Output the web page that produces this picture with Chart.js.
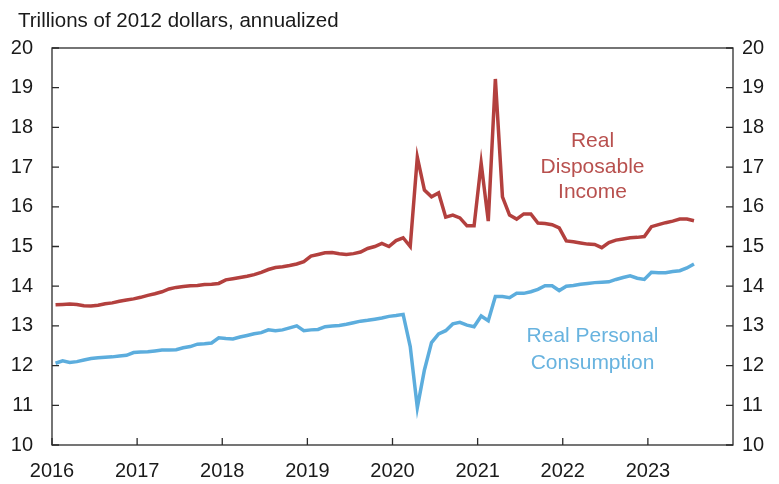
<!DOCTYPE html>
<html>
<head>
<meta charset="utf-8">
<script src="https://cdn.jsdelivr.net/npm/chart.js@4.4.1/dist/chart.umd.min.js"></script>
<style>
  html, body { margin: 0; background: #fff; }
  #wrap { width: 779px; height: 484px; }
</style>
</head>
<body>
<div id="wrap"><canvas id="chart"></canvas></div>
<script>
// ---- Data (monthly, Jan 2016 - Jul 2023) ----
const startYear = 2016;
const yearTicks = [2016, 2017, 2018, 2019, 2020, 2021, 2022, 2023];
const valueTicks = [10, 11, 12, 13, 14, 15, 16, 17, 18, 19, 20];

const disposableIncome = [
  13.53, 13.54, 13.55, 13.54, 13.51, 13.50, 13.52, 13.56, 13.58, 13.62, 13.65, 13.68, // 2016
  13.72, 13.77, 13.81, 13.86, 13.93, 13.97, 13.99, 14.01, 14.02, 14.04, 14.05, 14.07, // 2017
  14.16, 14.19, 14.22, 14.25, 14.29, 14.35, 14.42, 14.47, 14.49, 14.52, 14.56, 14.62, // 2018
  14.76, 14.80, 14.84, 14.85, 14.82, 14.80, 14.82, 14.86, 14.95, 15.00, 15.08, 15.00, // 2019
  15.15, 15.22, 15.00, 17.25, 16.42, 16.25, 16.35, 15.74, 15.79, 15.72, 15.52, 15.52, // 2020
  17.10, 15.64, 19.22, 16.25, 15.79, 15.69, 15.82, 15.82, 15.59, 15.58, 15.55, 15.47, // 2021
  15.14, 15.12, 15.09, 15.06, 15.05, 14.97, 15.10, 15.16, 15.19, 15.22, 15.23, 15.25, // 2022
  15.50, 15.55, 15.60, 15.64, 15.69, 15.69, 15.65                                      // 2023
];

const personalConsumption = [
  12.06, 12.12, 12.08, 12.10, 12.14, 12.18, 12.20, 12.21, 12.22, 12.24, 12.26, 12.33, // 2016
  12.34, 12.35, 12.37, 12.39, 12.39, 12.40, 12.45, 12.48, 12.54, 12.55, 12.57, 12.70, // 2017
  12.68, 12.67, 12.72, 12.76, 12.80, 12.83, 12.90, 12.88, 12.90, 12.95, 13.00, 12.88, // 2018
  12.90, 12.91, 12.98, 13.00, 13.01, 13.04, 13.08, 13.12, 13.14, 13.17, 13.20, 13.24, // 2019
  13.26, 13.29, 12.48, 10.94, 11.89, 12.58, 12.80, 12.88, 13.05, 13.09, 13.02, 12.98, // 2020
  13.25, 13.13, 13.74, 13.74, 13.71, 13.82, 13.82, 13.86, 13.92, 14.01, 14.01, 13.89, // 2021
  14.00, 14.02, 14.05, 14.07, 14.09, 14.10, 14.11, 14.17, 14.22, 14.26, 14.20, 14.17, // 2022
  14.35, 14.34, 14.34, 14.37, 14.39, 14.46, 14.56                                      // 2023
];

const RED = '#b3403e';
const BLUE = '#5caddd';
const FONT = '"Liberation Sans", Arial, Helvetica, sans-serif';

// each month is plotted at its middle
function toPoints(values) {
  return values.map((v, i) => ({ x: startYear + (i + 0.5) / 12, y: v }));
}

// frame, inward ticks, title and series labels
const decorPlugin = {
  id: 'decor',
  afterDraw(chart) {
    const ctx = chart.ctx;
    const a = chart.chartArea;
    const xs = chart.scales.x;
    const ys = chart.scales.y;
    ctx.save();
    ctx.strokeStyle = '#2b2b2b';
    ctx.lineWidth = 1.3;
    ctx.strokeRect(a.left, a.top, a.right - a.left, a.bottom - a.top);

    ctx.beginPath();
    valueTicks.forEach(v => {
      const y = ys.getPixelForValue(v);
      ctx.moveTo(a.left, y); ctx.lineTo(a.left + 7, y);
      ctx.moveTo(a.right, y); ctx.lineTo(a.right - 7, y);
    });
    yearTicks.forEach(yr => {
      const x = xs.getPixelForValue(yr);
      ctx.moveTo(x, a.bottom); ctx.lineTo(x, a.bottom - 7);
    });
    ctx.stroke();

    ctx.fillStyle = '#1a1a1a';
    ctx.font = '20.5px ' + FONT;
    ctx.textAlign = 'left';
    ctx.textBaseline = 'alphabetic';
    ctx.fillText('Trillions of 2012 dollars, annualized', 18, 27);

    ctx.font = '21px ' + FONT;
    ctx.textAlign = 'center';
    ctx.textBaseline = 'middle';
    const cx = xs.getPixelForValue(2022.35);
    ctx.fillStyle = '#b8504e';
    ctx.fillText('Real', cx, ys.getPixelForValue(17.66));
    ctx.fillText('Disposable', cx, ys.getPixelForValue(17.0));
    ctx.fillText('Income', cx, ys.getPixelForValue(16.36));
    ctx.fillStyle = '#68b3df';
    ctx.fillText('Real Personal', cx, ys.getPixelForValue(12.73));
    ctx.fillText('Consumption', cx, ys.getPixelForValue(12.06));
    ctx.restore();
  }
};

const yAxis = (position, pad, width) => ({
  type: 'linear',
  position: position,
  min: 10,
  max: 20,
  grid: { display: false, drawTicks: false },
  border: { display: false },
  ticks: {
    stepSize: 1,
    padding: pad,
    color: '#1a1a1a',
    font: { size: 20, family: FONT }
  },
  afterFit: s => { s.width = width; }
});

new Chart(document.getElementById('chart'), {
  type: 'line',
  data: {
    datasets: [
      {
        label: 'Real Disposable Income',
        data: toPoints(disposableIncome),
        borderColor: RED,
        borderWidth: 3.5,
        pointRadius: 0,
        tension: 0,
        yAxisID: 'y'
      },
      {
        label: 'Real Personal Consumption',
        data: toPoints(personalConsumption),
        borderColor: BLUE,
        borderWidth: 3.5,
        pointRadius: 0,
        tension: 0,
        yAxisID: 'y'
      }
    ]
  },
  options: {
    responsive: true,
    maintainAspectRatio: false,
    animation: false,
    layout: { padding: { top: 48, left: 0, right: 0, bottom: 0 } },
    plugins: {
      legend: { display: false },
      tooltip: { enabled: false }
    },
    scales: {
      x: {
        type: 'linear',
        min: 2016,
        max: 2024,
        grid: { display: false, drawTicks: false },
        border: { display: false },
        ticks: {
          stepSize: 1,
          autoSkip: false,
          maxRotation: 0,
          padding: 14,
          color: '#1a1a1a',
          font: { size: 20, family: FONT },
          callback: v => (yearTicks.includes(v) ? String(v) : '')
        },
        afterFit: s => { s.height = 39; }
      },
      y: yAxis('left', 19, 52),
      y2: yAxis('right', 9, 46)
    }
  },
  plugins: [decorPlugin]
});
</script>
</body>
</html>
